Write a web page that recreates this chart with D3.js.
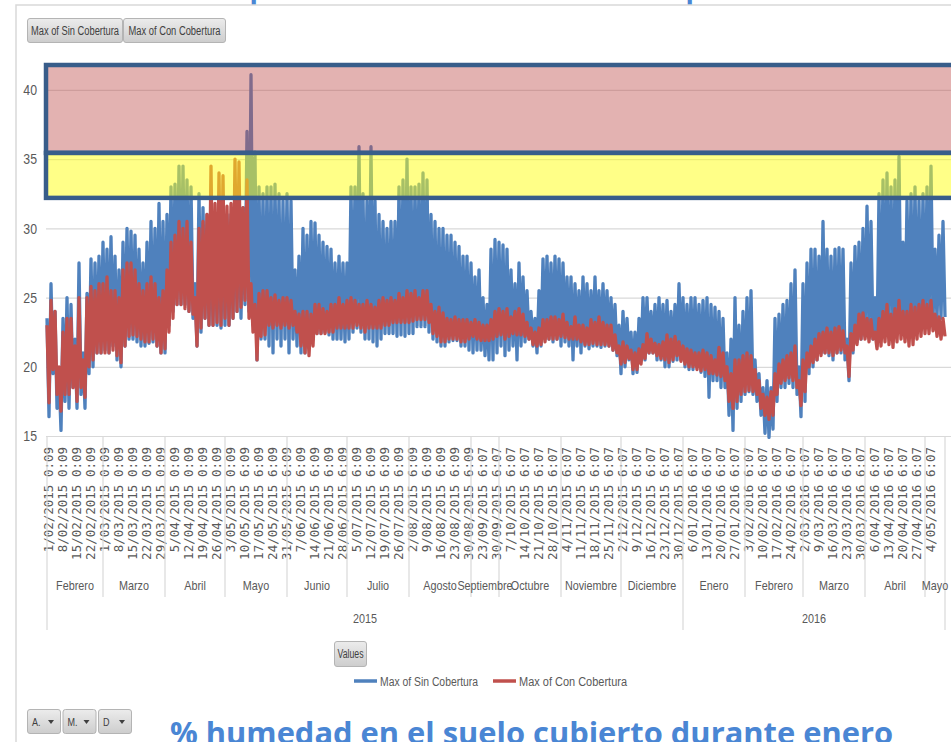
<!DOCTYPE html>
<html>
<head>
<meta charset="utf-8">
<script src="https://cdn.jsdelivr.net/npm/d3@7"></script>
<style>
  body { margin: 0; background: #fff; }
  svg { display: block; }
</style>
</head>
<body>
<div id="chart"></div>
<script>
// ── Data ─────────────────────────────────────────────────────────────────
// x axis: one category per reading day, labels every 7 days
const weekLabels = [
  '1/02/2015 0:09', '8/02/2015 0:09', '15/02/2015 0:09', '22/02/2015 0:09',
  '1/03/2015 0:09', '8/03/2015 0:09', '15/03/2015 0:09', '22/03/2015 0:09', '29/03/2015 0:09',
  '5/04/2015 0:09', '12/04/2015 0:09', '19/04/2015 0:09', '26/04/2015 0:09',
  '3/05/2015 0:09', '10/05/2015 6:09', '17/05/2015 6:09', '24/05/2015 6:09', '31/05/2015 6:09',
  '7/06/2015 6:09', '14/06/2015 6:09', '21/06/2015 6:09', '28/06/2015 6:09',
  '5/07/2015 6:09', '12/07/2015 6:09', '19/07/2015 6:09', '26/07/2015 6:09',
  '2/08/2015 6:09', '9/08/2015 6:09', '16/08/2015 6:09', '23/08/2015 6:09', '30/08/2015 6:09',
  '23/09/2015 6:07', '30/09/2015 6:07',
  '7/10/2015 6:07', '14/10/2015 6:07', '21/10/2015 6:07', '28/10/2015 6:07',
  '4/11/2015 6:07', '11/11/2015 6:07', '18/11/2015 6:07', '25/11/2015 6:07',
  '2/12/2015 6:07', '9/12/2015 6:07', '16/12/2015 6:07', '23/12/2015 6:07', '30/12/2015 6:07',
  '6/01/2016 6:07', '13/01/2016 6:07', '20/01/2016 6:07', '27/01/2016 6:07',
  '3/02/2016 6:07', '10/02/2016 6:07', '17/02/2016 6:07', '24/02/2016 6:07',
  '2/03/2016 6:07', '9/03/2016 6:07', '16/03/2016 6:07', '23/03/2016 6:07', '30/03/2016 6:07',
  '6/04/2016 6:07', '13/04/2016 6:07', '20/04/2016 6:07', '27/04/2016 6:07',
  '4/05/2016 6:07'
];
const labelStep = 7;

const monthNames = ['Febrero', 'Marzo', 'Abril', 'Mayo', 'Junio', 'Julio', 'Agosto', 'Septiembre',
  'Octubre', 'Noviembre', 'Diciembre', 'Enero', 'Febrero', 'Marzo', 'Abril', 'Mayo'];
const monthDays = [28, 31, 30, 31, 30, 31, 31, 14, 31, 30, 31, 31, 29, 31, 30, 10];
const yearNames = ['2015', '2016'];
const yearMonths = [11, 5];

const yTicks = [15, 20, 25, 30, 35, 40];
const yMax = 41.8;

// highlighted zones (% humedad)
const redZone = [35.45, 41.8];
const yellowZone = [32.2, 35.45];

// one high / low pair of readings for every two days
const sinHi = [
  23.5, 26, 24, 19.5, 23.5, 25, 24.5, 22, 27.5, 21, 25.3, 27.8, 27.5, 28,
  29, 28.5, 29.4, 28, 27, 29, 30, 29.8, 29.5, 28.5, 27.5, 29, 30.5, 30, 31.8, 30.5,
  31, 33, 33.2, 34.5, 34.5, 33.5, 33, 26, 32.5, 31.5, 31, 30, 30.5, 30.5, 30,
  31, 31, 31.5, 31, 31.5, 37, 41.1, 35.5, 33, 32.5,
  33, 33, 33.2, 32.5, 32, 32.5, 32, 27, 28, 30, 29.5, 30.5, 30.4, 29.5, 29, 28.7, 28.5, 27.5, 28, 27.5,
  27.5, 33, 33, 35.9, 32.5, 32, 35.9, 32, 31, 30.5, 30, 30.5, 30.5, 33, 33.5, 35, 33, 33, 33.2, 34,
  33.5, 31, 30.5, 30, 30, 29.5, 29.5, 29, 28.7, 28, 28, 27.5, 26.5, 27, 25, 24.5, 28.5,
  29.2, 29, 28.8, 28.5, 27, 26, 27.5, 26.5, 25.5, 24, 23.5, 25.5, 27.8, 28, 27.5, 28, 27.8, 27.5, 26.5, 26.5,
  26, 25.5, 26.5, 26, 25.5, 26.5, 25.5, 26, 25.5, 25, 24.5, 23, 24, 23.5, 22.5, 22.5, 23.5, 25, 25, 24,
  24.5, 25, 24.5, 24.8, 24, 24.5, 26, 25, 24.5, 25, 25, 24.5, 24.8, 25, 24.5, 24.3,
  24, 23.5, 21, 22, 25, 23, 24, 25, 25.5, 20.5, 19.5, 18.5, 19, 18.5, 23.5, 23.8, 24.5, 24.8, 26, 27,
  20, 26, 27.5, 28.5, 28.5, 28, 30.5, 28.5, 28, 28.5, 28.6, 28.5, 22, 27.5, 28.7, 29, 30, 31.6, 30.5, 25,
  32.5, 33.5, 34, 33, 33.5, 35.2, 29, 32, 32.5, 33, 32, 32.5, 33, 34.5, 28.5, 29.5, 30.5
];
const sinLo = [
  16.4, 19.5, 17, 15.4, 17.5, 17, 18.5, 17, 18, 17, 19.5, 20, 21, 21,
  21.2, 21, 21.5, 20.5, 20, 21.5, 22, 22, 21.8, 21.5, 21.5, 21.7, 21.8, 21.5, 21, 21,
  23, 24, 24.5, 24.5, 24.5, 24, 23.5, 21.5, 22.5, 23.5, 23, 23, 23, 22.8, 23,
  23, 23.5, 24, 23.5, 24.5, 24, 23, 20.5, 22, 22,
  21.5, 21, 22, 21.5, 22, 21, 22, 21.5, 21, 21, 21.5, 22, 22.4, 22.4, 22.5, 22.3, 22, 22, 22, 21.8,
  22, 22.5, 22.8, 22.5, 22, 22, 21.8, 21.5, 22, 22.4, 22.4, 22.4, 22.2, 22.3, 22.2, 22.4, 22.4, 22.9, 22.9, 22.9,
  22.5, 22, 21.8, 21.5, 21.5, 21.8, 21.9, 21.9, 21.5, 21.5, 21.2, 21, 21.2, 21.2, 20.8, 20.5, 20.5,
  21, 21.5, 20.8, 21.2, 21.5, 20.5, 21.5, 21.8, 22, 21.5, 21, 21.5, 22, 22, 21.8, 22, 21.5, 21.8, 21.5, 20.5,
  21.5, 21, 21.5, 21.3, 21.5, 21.5, 21.4, 21.5, 21.5, 21.2, 20.8, 19.5, 20, 20.5, 19.5, 19.6, 20.5, 20.5, 21, 21,
  20.5, 20.5, 20, 20, 20.4, 20.5, 20.5, 20, 19.8, 19.8, 20, 19.6, 19.3, 17.8, 19, 19,
  18.5, 18.5, 16.5, 15.4, 17, 17.5, 18, 18.2, 18, 17.5, 16.5, 15.2, 14.9, 15.5, 17.5, 18.5, 18.5, 18.8, 18.5, 18,
  16.4, 17.5, 19.5, 20, 20.5, 21, 21, 20.8, 20.5, 21, 21, 20.5, 19, 21, 21.8, 22, 22.2, 22.4, 22, 21.5,
  22, 22.5, 22.8, 22.5, 22.6, 22.8, 22.5, 22.5, 22.4, 22.8, 23, 23, 23.2, 23.4, 23.4, 23.5, 23.6
];
const conHi = [
  23, 24.8, 24, 20, 22.5, 23.5, 23.5, 21.5, 25, 20.5, 25, 25.8, 25.5, 26,
  26, 26.5, 25.5, 25.5, 25, 27, 27.5, 27.5, 27, 26, 25.5, 26, 26.5, 26, 25, 25.5,
  27, 29, 29.5, 30.5, 30, 30.5, 29, 25, 30, 30.5, 31, 34.5, 31.8, 34, 33.8,
  31.6, 31.8, 35, 34.8, 31.5, 33.5, 26, 24.5, 25.3, 25.5,
  25.5, 25, 25.2, 24.8, 25, 25, 24.8, 24, 23.8, 24, 24, 23.8, 24.5, 24.5, 24.2, 24, 24.5, 24.5, 25, 24.5,
  24.8, 25, 24.8, 24.5, 24.5, 24.8, 24.5, 24.3, 24.8, 25, 24.8, 25, 24.8, 25.3, 25, 25.5, 25.3, 25.5, 25, 25.5,
  25.5, 24.5, 24, 24.3, 23.9, 23.5, 23.4, 23.6, 23.4, 23.4, 23.4, 23.2, 23.4, 23.2, 23, 23, 23.4,
  24, 24.2, 24, 24.2, 23.6, 24, 24.2, 23.8, 23.2, 22.8, 22.5, 22.8, 23.4, 23.4, 23.6, 23.6, 23.4, 23.8, 23.2, 22.9,
  23.6, 23, 23, 22.8, 23.4, 23.2, 23.6, 23.2, 23, 23, 22.3, 21.5, 21.8, 21.5, 21.2, 21, 21.3, 21.6, 22.4, 22,
  21.7, 21.6, 21.8, 22.3, 22, 22.2, 21.8, 21.5, 21.3, 21.2, 21, 21, 21.2, 21, 20.8, 20.5,
  21.4, 21, 20, 19.5, 20.5, 20.5, 20.8, 21, 20.8, 19.8, 19, 18, 17.8, 18.2, 19.5, 20.2, 20.5, 20.8, 21, 21.5,
  19, 20.5, 21, 21.5, 22, 22.4, 22.5, 22.8, 22.5, 22.8, 22.9, 22.6, 21.5, 22.4, 23, 23.8, 23.9, 23.5, 23.4, 22.5,
  23.5, 24, 24.5, 23.8, 24.2, 24.8, 24, 24, 24.5, 24.3, 24.5, 24.8, 24.5, 24.8, 23.8, 23.6, 23.5
];
const conLo = [
  17.4, 19.8, 18, 16.8, 18, 18, 18.5, 17.5, 18.5, 17.8, 20, 20.5, 21, 21,
  21, 21, 21.2, 20.8, 20.3, 21.5, 22.2, 22.3, 22.2, 22, 21.8, 21.8, 22, 21.5, 21, 21.3,
  22.5, 23.5, 24.5, 24.5, 24.2, 24, 23.8, 21.5, 22.8, 23.5, 23, 23, 23.2, 23, 23.5,
  23, 23.5, 24, 24.3, 24.8, 23.5, 22.5, 20.5, 22.2, 22.3,
  23, 22.8, 23, 22.8, 23, 22.8, 23, 22.5, 21.5, 21, 20.8, 21.5, 22.4, 22.4, 22.4, 22.5, 22.5, 22.8, 22.8, 22.8,
  22.8, 22.8, 23, 22.8, 22.5, 22.8, 22.8, 22.8, 22.8, 23, 23, 23.2, 23.2, 23.2, 23.2, 23.2, 23.3, 23.4, 23.4, 23.4,
  23.2, 22.4, 22.2, 21.8, 21.8, 22, 22, 22, 21.8, 21.8, 22, 22.2, 22, 21.9, 21.9, 21.9, 22,
  22.2, 22.3, 22, 22.2, 22.4, 22.3, 22.3, 22.2, 22, 21.6, 21.5, 21.6, 21.8, 22, 22, 22, 22.2, 22.1, 22, 22,
  22, 21.8, 21.6, 21.6, 21.7, 21.6, 21.6, 21.6, 21.5, 21.2, 21, 20.2, 20.3, 20.6, 19.8, 19.8, 20.2, 20.6, 21, 21,
  20.8, 20.6, 20.5, 20.3, 20.5, 20.8, 20.4, 20.2, 20, 20, 19.8, 19.7, 19.8, 19.5, 19.5, 19.4,
  19.3, 19, 17.5, 17, 17.5, 18, 18.2, 18.3, 18.2, 18, 17, 16.5, 16.2, 16.5, 18, 18.8, 19, 19.2, 19, 18.5,
  17.2, 18.2, 20, 20.3, 20.5, 20.8, 21, 21, 20.8, 21, 21.2, 21, 19.3, 21.2, 21.6, 22, 22, 21.8, 22, 21.3,
  21.5, 21.8, 21.6, 21.4, 21.8, 22, 21.8, 21.5, 21.6, 22, 22.2, 22.4, 22.4, 22.6, 22.2, 22, 22.2
];

const seriesNames = ['Max of Sin Cobertura', 'Max of Con Cobertura'];

// ── Chart ───────────────────────────────────────────────────────────────
(function () {
  'use strict';

  const W = 951, H = 742;
  const plotLeft = 47, plotRight = 945, plotTop = 65, plotBottom = 436;
  const sans = "'Liberation Sans', Arial, sans-serif";
  const textGrey = '#595959';
  const gridGrey = '#d9d9d9';
  const blue = '#4f81bd', red = '#c0504d';
  const zoneBorder = '#385d8a';

  const totalDays = d3.sum(monthDays);
  const x = d3.scaleLinear().domain([0, totalDays]).range([plotLeft, plotRight]);
  const y = d3.scaleLinear().domain([15, yMax]).range([plotBottom, plotTop]);

  // squeeze a text selection horizontally, the way Excel's narrow font looks
  function condense(sel, f) {
    sel.each(function () {
      const w = this.getComputedTextLength();
      d3.select(this).attr('textLength', w * f).attr('lengthAdjust', 'spacingAndGlyphs');
    });
  }

  const svg = d3.select('#chart').append('svg')
    .attr('width', W).attr('height', H);

  const defs = svg.append('defs');
  const grad = defs.append('linearGradient').attr('id', 'btn').attr('x1', 0).attr('x2', 0).attr('y1', 0).attr('y2', 1);
  grad.append('stop').attr('offset', '0%').attr('stop-color', '#ececec');
  grad.append('stop').attr('offset', '100%').attr('stop-color', '#cdcdcd');

  // titles of the neighbouring slides, cut by the frame
  svg.append('text')
    .attr('x', 188).attr('y', -2)
    .attr('textLength', 668).attr('lengthAdjust', 'spacingAndGlyphs')
    .style('font-family', "'Open Sans', sans-serif").style('font-weight', 700).style('font-size', '30px')
    .attr('fill', '#4a86d4')
    .text('Comportamiento de los sensores de profundidad');

  svg.append('text')
    .attr('x', 170).attr('y', 744)
    .attr('textLength', 723).attr('lengthAdjust', 'spacingAndGlyphs')
    .style('font-family', "'Open Sans', sans-serif").style('font-weight', 700).style('font-size', '30px')
    .attr('fill', '#4a86d4')
    .text('% humedad en el suelo cubierto durante enero');

  // chart frame
  svg.append('path')
    .attr('d', `M16,${H} V5 H${W}`)
    .attr('fill', 'none').attr('stroke', gridGrey).attr('stroke-width', 1.5);

  // ── Pivot buttons ──
  function button(bx, by, bw, bh, label, tl) {
    const g = svg.append('g').attr('transform', `translate(${bx},${by})`);
    g.append('rect')
      .attr('x', 0.5).attr('y', 0.5).attr('width', bw - 1).attr('height', bh - 1)
      .attr('rx', 2.5).attr('fill', 'url(#btn)').attr('stroke', '#b4b4b4');
    const t = g.append('text')
      .attr('x', bw / 2).attr('y', bh / 2 + 4)
      .attr('text-anchor', 'middle')
      .style('font-family', sans).style('font-size', '12px')
      .attr('fill', '#404040')
      .text(label);
    if (tl) t.attr('textLength', tl).attr('lengthAdjust', 'spacingAndGlyphs');
    return g;
  }
  button(27, 18, 96, 25, seriesNames[0], 88);
  button(123, 18, 103, 25, seriesNames[1], 92);
  button(334, 641, 33, 26, 'Values', 26);

  ['A.', 'M.', 'D'].forEach((lab, i) => {
    const g = button(27 + i * 35.5, 709, 34, 25, '', null);
    g.append('text').attr('x', 5).attr('y', 17)
      .style('font-family', sans).style('font-size', '11px').attr('fill', '#404040').text(lab)
      .call(condense, 0.82);
    g.append('path').attr('d', 'M21,11 h6 l-3,4 z').attr('fill', '#404040');
  });

  // ── Grid + y axis ──
  const yAxis = svg.append('g')
    .attr('transform', `translate(${plotLeft - 1},0)`)
    .call(d3.axisLeft(y).tickValues(yTicks).tickSize(-(W - plotLeft + 1)).tickPadding(9))
    .call(ax => ax.select('.domain').remove())
    .call(ax => ax.selectAll('.tick line').attr('stroke', gridGrey).attr('stroke-width', 1.2));
  yAxis.selectAll('text')
    .style('font-family', sans).style('font-size', '15px').attr('fill', textGrey)
    .call(condense, 0.82);

  // ── Series: zig-zag through each high/low pair ──
  function points(hi, lo) {
    const pts = [];
    hi.forEach((h, k) => {
      pts.push([2 * k, h]);
      pts.push([2 * k + 1, lo[k]]);
    });
    return pts;
  }
  const line = d3.line().x(d => x(d[0])).y(d => y(d[1]));

  svg.append('path')
    .datum(points(sinHi, sinLo))
    .attr('d', line)
    .attr('fill', 'none').attr('stroke', blue).attr('stroke-width', 3.3).attr('stroke-linejoin', 'round');

  svg.append('path')
    .datum(points(conHi, conLo))
    .attr('d', line)
    .attr('fill', 'none').attr('stroke', red).attr('stroke-width', 3.3).attr('stroke-linejoin', 'round');

  // ── Highlight zones ──
  const zones = [
    { range: redZone, fill: '#c0504d', op: 0.44 },
    { range: yellowZone, fill: '#ffff10', op: 0.5 }
  ];
  svg.selectAll('.zone')
    .data(zones)
    .enter()
    .append('rect')
    .attr('class', 'zone')
    .attr('x', plotLeft - 1)
    .attr('width', W - plotLeft + 6)
    .attr('y', d => y(d.range[1]))
    .attr('height', d => y(d.range[0]) - y(d.range[1]))
    .attr('fill', d => d.fill).attr('fill-opacity', d => d.op)
    .attr('stroke', zoneBorder).attr('stroke-width', 4.5);

  // ── x axis: week labels ──
  const xAxis = svg.append('g')
    .attr('transform', `translate(0,${plotBottom})`)
    .call(d3.axisBottom(x)
      .tickValues(weekLabels.map((_, i) => i * labelStep))
      .tickFormat((d, i) => weekLabels[i])
      .tickSize(0))
    .call(ax => ax.select('.domain').remove());
  xAxis.selectAll('text')
    .attr('transform', 'rotate(-90)')
    .attr('x', -11).attr('y', 1.5).attr('dy', '0.35em')
    .style('text-anchor', 'end')
    .style('font-family', "'DejaVu Sans Mono', monospace").style('font-size', '12.5px')
    .attr('fill', textGrey);

  // month / year groups
  const monthStart = [0];
  monthDays.forEach((d, i) => monthStart.push(monthStart[i] + d));
  const yearStart = [0];
  yearMonths.forEach((m, i) => yearStart.push(yearStart[i] + m));

  const axisG = svg.append('g');
  axisG.selectAll('.msep')
    .data(monthStart.slice(1, -1).filter((_, i) => !yearStart.includes(i + 1)))
    .enter().append('line')
    .attr('x1', d => x(d)).attr('x2', d => x(d))
    .attr('y1', plotBottom).attr('y2', 597)
    .attr('stroke', gridGrey).attr('stroke-width', 1.2);

  axisG.selectAll('.ysep')
    .data(yearStart.map(i => monthStart[i]))
    .enter().append('line')
    .attr('x1', d => x(d)).attr('x2', d => x(d))
    .attr('y1', plotBottom).attr('y2', 630)
    .attr('stroke', gridGrey).attr('stroke-width', 1.2);

  axisG.selectAll('.mlab')
    .data(monthNames)
    .enter().append('text')
    .attr('x', (d, i) => x((monthStart[i] + monthStart[i + 1]) / 2))
    .attr('y', 590)
    .attr('text-anchor', 'middle')
    .style('font-family', sans).style('font-size', '13.5px')
    .attr('fill', textGrey)
    .text(d => d)
    .call(condense, 0.8);

  axisG.selectAll('.ylab')
    .data(yearNames)
    .enter().append('text')
    .attr('x', (d, i) => x((monthStart[yearStart[i]] + monthStart[yearStart[i + 1]]) / 2))
    .attr('y', 623)
    .attr('text-anchor', 'middle')
    .style('font-family', sans).style('font-size', '13.5px')
    .attr('fill', textGrey)
    .text(d => d)
    .call(condense, 0.8);

  // ── Legend ──
  const legend = svg.append('g').attr('transform', 'translate(354,681)');
  [[0, blue], [139, red]].forEach(([dx, c], i) => {
    legend.append('line')
      .attr('x1', dx).attr('x2', dx + 23).attr('y1', 0).attr('y2', 0)
      .attr('stroke', c).attr('stroke-width', 3.5);
    legend.append('text')
      .attr('x', dx + 26).attr('y', 4.5)
      .attr('textLength', i === 0 ? 98 : 108).attr('lengthAdjust', 'spacingAndGlyphs')
      .style('font-family', sans).style('font-size', '12.5px')
      .attr('fill', textGrey)
      .text(seriesNames[i]);
  });
})();
</script>
</body>
</html>
